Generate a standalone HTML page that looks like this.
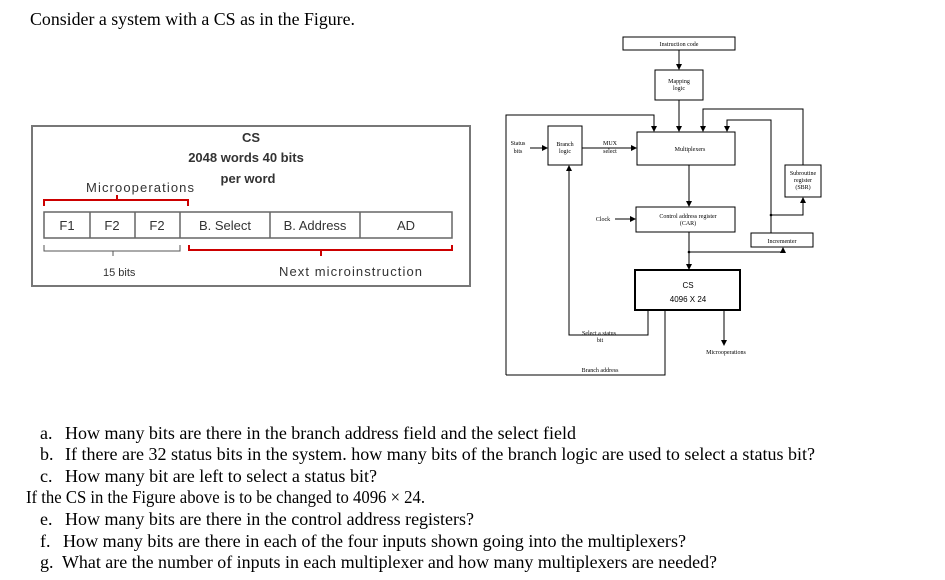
<!DOCTYPE html>
<html><head><style>
html,body{margin:0;padding:0;background:#fff;}
svg{display:block;}
.s{font-family:"Liberation Serif",serif;font-size:18px;fill:#000;}
.c{font-family:"Liberation Sans",sans-serif;fill:#333;}
.d{font-family:"Liberation Serif",serif;font-size:6px;fill:#000;}
</style></head><body>
<svg width="945" height="580" viewBox="0 0 945 580" xmlns="http://www.w3.org/2000/svg">
<defs><marker id="a" markerWidth="6" markerHeight="6" refX="5" refY="3" orient="auto"><path d="M0,0 L6,3 L0,6 z" fill="#000"/></marker></defs>
<text class="s" x="30" y="25" textLength="325" lengthAdjust="spacingAndGlyphs">Consider a system with a CS as in the Figure.</text>

<!-- left diagram -->
<rect x="32" y="126" width="438" height="160" fill="#fff" stroke="#777" stroke-width="2"/>
<text class="c" x="251" y="142" font-size="13" font-weight="bold" text-anchor="middle">CS</text>
<text class="c" x="246" y="162" font-size="13" font-weight="bold" text-anchor="middle">2048 words 40 bits</text>
<text class="c" x="248" y="183" font-size="13" font-weight="bold" text-anchor="middle">per word</text>
<text class="c" x="86" y="192" font-size="13" textLength="108">Microoperations</text>
<path d="M44,206 V200 H188 V206 M117,200 V195" stroke="#c00" stroke-width="2" fill="none"/>
<g stroke="#666" stroke-width="1.5" fill="#fff">
<rect x="44" y="212" width="408" height="26"/>
<path d="M90,212V238 M135,212V238 M180,212V238 M270,212V238 M360,212V238"/>
</g>
<g class="c" font-size="13" text-anchor="middle">
<text x="67" y="230">F1</text><text x="112" y="230">F2</text><text x="157" y="230">F2</text>
<text x="225" y="230">B. Select</text><text x="315" y="230">B. Address</text><text x="406" y="230">AD</text>
</g>
<path d="M44,245 V251 H180 V245 M113,251 V256" stroke="#555" stroke-width="1" fill="none"/>
<path d="M189,245 V250 H452 V245 M321,250 V256" stroke="#c00" stroke-width="2" fill="none"/>
<text class="c" x="103" y="276" font-size="11">15 bits</text>
<text class="c" x="279" y="276" font-size="13" textLength="143">Next microinstruction</text>

<!-- right diagram -->
<g stroke="#000" stroke-width="1" fill="none">
<rect x="623" y="37" width="112" height="13"/>
<rect x="655" y="70" width="48" height="30"/>
<rect x="548" y="126" width="34" height="39"/>
<rect x="637" y="132" width="98" height="33"/>
<rect x="785" y="165" width="36" height="32"/>
<rect x="636" y="207" width="99" height="25"/>
<rect x="751" y="233" width="62" height="14"/>
<rect x="635" y="270" width="105" height="40" stroke-width="2"/>
<path d="M679,50 V69" marker-end="url(#a)"/>
<path d="M679,100 V131" marker-end="url(#a)"/>
<path d="M506,375 V115 H654 V131" marker-end="url(#a)"/>
<path d="M530,148 H547" marker-end="url(#a)"/>
<path d="M582,148 H636" marker-end="url(#a)"/>
<path d="M803,165 V109 H703 V131" marker-end="url(#a)"/>
<path d="M771,233 V120 H727 V131" marker-end="url(#a)"/>
<path d="M771,215 H803 V198" marker-end="url(#a)"/>
<path d="M689,165 V206" marker-end="url(#a)"/>
<path d="M615,219 H635" marker-end="url(#a)"/>
<path d="M689,232 V269" marker-end="url(#a)"/>
<path d="M689,252 H783 V248" marker-end="url(#a)"/>
<path d="M648,310 V335 H569 V166" marker-end="url(#a)"/>
<path d="M665,310 V375 H506"/>
<path d="M724,310 V345" marker-end="url(#a)"/>
</g>
<circle cx="771" cy="215" r="1.3"/><circle cx="689" cy="252" r="1.3"/>
<g class="d" text-anchor="middle">
<text x="679" y="46">Instruction code</text>
<text x="679" y="83">Mapping</text><text x="679" y="90">logic</text>
<text x="518" y="145">Status</text><text x="518" y="153">bits</text>
<text x="565" y="146">Branch</text><text x="565" y="153">logic</text>
<text x="610" y="145">MUX</text><text x="610" y="153">select</text>
<text x="690" y="151">Multiplexers</text>
<text x="803" y="175">Subroutine</text><text x="803" y="182">register</text><text x="803" y="189">(SBR)</text>
<text x="603" y="221">Clock</text>
<text x="688" y="218">Control address register</text><text x="688" y="225">(CAR)</text>
<text x="782" y="243">Incrementer</text>
<text x="599" y="335">Select a status</text><text x="600" y="342">bit</text>
<text x="726" y="354">Microoperations</text>
<text x="600" y="372">Branch address</text>
</g>
<text x="688" y="288" font-family="Liberation Sans,sans-serif" font-size="8" text-anchor="middle">CS</text>
<text x="688" y="302" font-family="Liberation Sans,sans-serif" font-size="8" text-anchor="middle">4096 X 24</text>

<!-- questions -->
<g>
<text class="s" x="40" y="439">a.</text><text class="s" x="65" y="439" textLength="511" lengthAdjust="spacingAndGlyphs">How many bits are there in the branch address field and the select field</text>
<text class="s" x="40" y="460">b.</text><text class="s" x="65" y="460" textLength="750" lengthAdjust="spacingAndGlyphs">If there are 32 status bits in the system. how many bits of the branch logic are used to select a status bit?</text>
<text class="s" x="40" y="482">c.</text><text class="s" x="65" y="482" textLength="312" lengthAdjust="spacingAndGlyphs">How many bit are left to select a status bit?</text>
<text class="s" x="26" y="503" textLength="399" lengthAdjust="spacingAndGlyphs">If the CS in the Figure above is to be changed to 4096 × 24.</text>
<text class="s" x="40" y="525">e.</text><text class="s" x="65" y="525" textLength="409" lengthAdjust="spacingAndGlyphs">How many bits are there in the control address registers?</text>
<text class="s" x="40" y="547">f.</text><text class="s" x="63" y="547" textLength="623" lengthAdjust="spacingAndGlyphs">How many bits are there in each of the four inputs shown going into the multiplexers?</text>
<text class="s" x="40" y="568">g.</text><text class="s" x="62" y="568" textLength="655" lengthAdjust="spacingAndGlyphs">What are the number of inputs in each multiplexer and how many multiplexers are needed?</text>
</g>
</svg>
</body></html>
